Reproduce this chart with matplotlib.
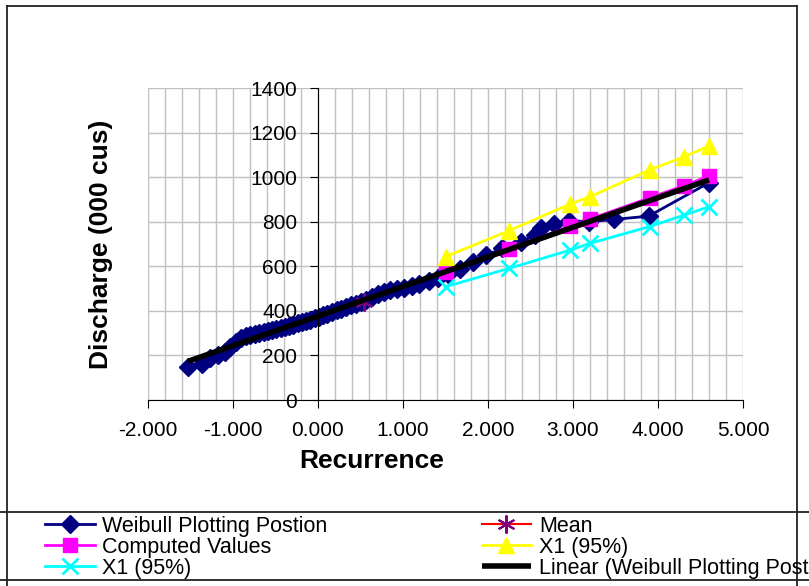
import numpy as np
import matplotlib.pyplot as plt
from matplotlib.lines import Line2D
from matplotlib.ticker import MultipleLocator, FormatStrFormatter

plt.rcParams['font.family'] = ['Liberation Sans', 'DejaVu Sans']

# weibull plotting positions (reduced variate) and observed discharge
weibull_x = [-1.53, -1.37, -1.27, -1.18, -1.10, -1.03, -0.97, -0.91, -0.85, -0.80,
             -0.74, -0.69, -0.64, -0.59, -0.54, -0.49, -0.44, -0.39, -0.34, -0.29,
             -0.24, -0.19, -0.14, -0.09, -0.04, 0.01, 0.06, 0.11, 0.16, 0.22,
             0.27, 0.33, 0.39, 0.45, 0.51, 0.57, 0.64, 0.71, 0.78, 0.85,
             0.93, 1.01, 1.10, 1.19, 1.30, 1.41, 1.53, 1.67, 1.82, 1.98,
             2.17, 2.39, 2.55, 2.62, 2.78, 2.95, 3.19, 3.48, 3.89, 4.60]
weibull_q = [150, 160, 190, 200, 215, 240, 260, 280, 285, 290,
             295, 300, 305, 310, 312, 318, 322, 328, 333, 338,
             345, 350, 355, 360, 367, 372, 380, 388, 395, 402,
             410, 418, 425, 432, 440, 450, 462, 475, 485, 492,
             498, 503, 512, 522, 535, 548, 565, 590, 620, 650,
             680, 710, 740, 770, 790, 805, 800, 810, 825, 975]

mean_x = [0.54]
mean_q = [441]

# return periods 5,10,20,25,50,75,100 yr
ret_x = [1.50, 2.25, 2.97, 3.20, 3.90, 4.31, 4.60]
computed_q = [576, 678, 780, 812, 907, 962, 1005]
upper_q = [643, 760, 880, 912, 1032, 1092, 1140]
lower_q = [508, 591, 673, 703, 778, 830, 867]

W, H = 809, 586
fig = plt.figure(figsize=(W / 100, H / 100), dpi=100)
ax = fig.add_axes([148 / W, 1 - 400 / H, 595 / W, 312 / H])

ax.plot(weibull_x, weibull_q, color='#000080', lw=2, marker='D', ms=9.5,
        mfc='#000080', mec='#000080', label='Weibull Plotting Postion')
ax.plot(mean_x, mean_q, color='red', lw=1.5, marker=(6, 2, 0), ms=13,
        mec='#800080', mew=1.5, label='Mean')
ax.plot(ret_x, computed_q, color='#FF00FF', lw=2, marker='s', ms=10,
        mfc='#FF00FF', mec='#FF00FF', label='Computed Values')
ax.plot(ret_x, upper_q, color='#FFFF00', lw=2, marker='^', ms=11,
        mfc='#FFFF00', mec='#FFFF00', label='X1 (95%)')
ax.plot(ret_x, lower_q, color='#00FFFF', lw=2, marker='x', ms=11,
        mew=2, mec='#00FFFF', label='X1 (95%)')

# linear trend like excel
k, b = np.polyfit(weibull_x, weibull_q, 1)
tx = np.array([min(weibull_x), max(weibull_x)])
ax.plot(tx, k * tx + b, color='black', lw=4, solid_capstyle='butt',
        label='Linear (Weibull Plotting Postion)')

ax.set_xlim(-2, 5)
ax.set_ylim(0, 1400)
ax.xaxis.set_major_locator(MultipleLocator(1))
ax.xaxis.set_minor_locator(MultipleLocator(0.2))
ax.xaxis.set_major_formatter(FormatStrFormatter('%.3f'))
ax.yaxis.set_major_locator(MultipleLocator(200))
ax.grid(True, which='both', axis='x', color='#c0c0c0', lw=1)
ax.grid(True, which='major', axis='y', color='#c0c0c0', lw=1)
ax.set_axisbelow(True)

for s in ['top', 'right']:
    ax.spines[s].set_visible(False)
ax.spines['left'].set_position(('data', 0))
ax.spines['left'].set_color('black')
ax.spines['bottom'].set_color('black')
ax.tick_params(axis='both', which='major', direction='out', length=6,
               labelsize=15, color='black')
ax.tick_params(axis='x', pad=9)
ax.tick_params(axis='y', pad=9)
ax.tick_params(which='minor', length=0)

ax.set_xlabel('Recurrence', fontsize=19, fontweight='bold')
ax.set_ylabel('Discharge (000 cus)', fontsize=19, fontweight='bold')
ax.xaxis.set_label_coords((372 - 148) / 595, (400 - 449) / 312)
ax.yaxis.set_label_coords((113 - 148) / 595, (400 - 244) / 312)

h, l = ax.get_legend_handles_labels()
order = [0, 2, 4, 1, 3, 5]
fig.legend([h[i] for i in order], [l[i] for i in order], ncol=2,
           loc='upper left', bbox_to_anchor=(45 / W, 1 - 516 / H),
           frameon=False, fontsize=15.5, borderpad=0, borderaxespad=0,
           handlelength=2.3, handletextpad=0.37, columnspacing=7.15,
           labelspacing=0.0)

# chart and legend borders
def fline(x0, y0, x1, y1):
    fig.add_artist(Line2D([x0 / W, x1 / W], [1 - y0 / H, 1 - y1 / H],
                          transform=fig.transFigure, color='#222222', lw=1.3))

fline(7, 6, 797, 6)
fline(7, 6, 7, H)
fline(797, 6, 797, H)
fline(0, 512, W, 512)
fline(0, 580, W, 580)

fig.savefig('out.png', dpi=100)
